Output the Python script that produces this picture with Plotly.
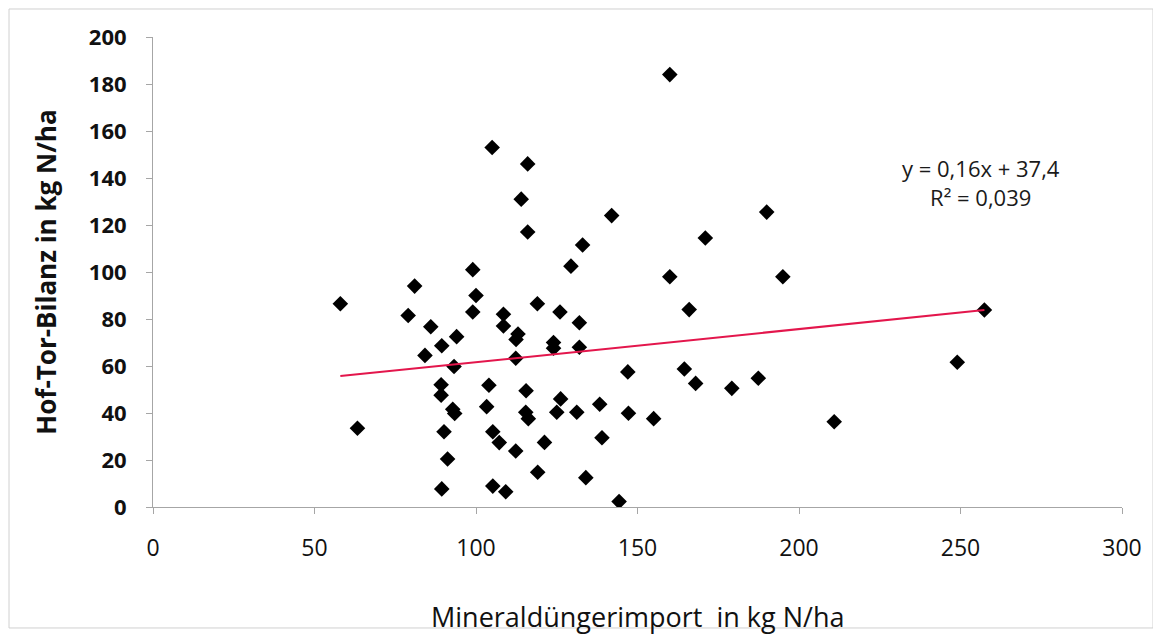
import plotly.graph_objects as go

# data
import_n = [160, 105, 116, 114, 142, 116, 133, 129.4, 99, 160, 195, 190, 171, 81, 58,
            100, 119, 126, 99, 79, 108.5, 166, 132, 86, 108.5, 113, 112.4, 94, 89.4, 124,
            124, 132, 84.2, 112.3, 93.2, 147, 164.5, 168, 89.2, 104, 89.2, 115.5, 126.2,
            92.8, 93.4, 103.3, 115.4, 116.2, 125, 131.2, 138.3, 147.2, 155, 63.3, 90.1,
            105.2, 107.2, 121.2, 139, 112.3, 91.2, 119.1, 134, 89.4, 105.2, 109.2, 144.3,
            179.2, 187.4, 210.9, 249, 257.4]
bilanz = [184, 153, 146, 131, 124, 117, 111.5, 102.5, 101, 98, 98, 125.5, 114.5, 94, 86.5,
          90, 86.5, 83, 83, 81.5, 82, 84, 78.4, 76.7, 77, 73.6, 71.3, 72.5, 68.6, 70,
          67.6, 68, 64.5, 63.3, 59.8, 57.5, 58.7, 52.6, 52, 51.8, 47.6, 49.5, 46,
          41.6, 39.8, 42.7, 40.3, 37.6, 40.3, 40.3, 43.7, 39.9, 37.6, 33.5, 32,
          32, 27.4, 27.5, 29.5, 23.8, 20.4, 14.8, 12.5, 7.7, 8.9, 6.5, 2.3,
          50.5, 54.8, 36.3, 61.6, 83.8]

trend_x = [58, 257.4]
trend_y = [55.7, 83.8]

x_ticks = [0, 50, 100, 150, 200, 250, 300]
y_ticks = [0, 20, 40, 60, 80, 100, 120, 140, 160, 180, 200]

fig = go.Figure()

fig.add_trace(go.Scatter(x=import_n, y=bilanz, mode='markers',
                         marker=dict(symbol='diamond', size=12, color='black'),
                         showlegend=False))
fig.add_trace(go.Scatter(x=trend_x, y=trend_y, mode='lines',
                         line=dict(color='#e3164c', width=2), showlegend=False))

fig.add_annotation(x=0.855, y=0.69, xref='paper', yref='paper',
                   xanchor='center', yanchor='middle',
                   text='y = 0,16x + 37,4<br>R² = 0,039', showarrow=False,
                   font=dict(family='Open Sans', size=22, color='#1a1a1a'), align='center')

# x axis title as an annotation so the plot area does not move
fig.add_annotation(x=0.5, y=-0.234, xref='paper', yref='paper',
                   xanchor='center', yanchor='middle',
                   text='Mineraldüngerimport  in kg N/ha', showarrow=False,
                   font=dict(family='Open Sans', size=27, color='#111'))

# light frame round the whole chart
fig.add_shape(type='rect', xref='paper', yref='paper',
              x0=-0.1486, x1=1.032, y0=-0.2574, y1=1.0596,
              line=dict(color='#d0d0d0', width=1))

axis_line = '#a6a6a6'
fig.update_xaxes(range=[0, 300], tickvals=x_ticks, showgrid=False, zeroline=False,
                 showline=True, linecolor=axis_line, ticks='outside', tickcolor=axis_line,
                 ticklen=6, ticklabelstandoff=14,
                 tickfont=dict(family='Open Sans', size=23, color='#111'))
fig.update_yaxes(range=[0, 200], tickvals=y_ticks, showgrid=False, zeroline=False,
                 showline=True, linecolor=axis_line, ticks='outside', tickcolor=axis_line,
                 ticklen=6, ticklabelstandoff=15,
                 tickfont=dict(family='Open Sans', size=22, color='#111', weight='bold'),
                 title=dict(text='Hof-Tor-Bilanz in kg N/ha', standoff=24,
                            font=dict(family='Open Sans', size=26, color='#111', weight='bold')))

# body of the page has an 8px margin, so the figure is 8px smaller and margins shifted
fig.update_layout(width=1153, height=628, plot_bgcolor='white', paper_bgcolor='white',
                  margin=dict(l=145, r=39, t=29, b=129))

fig.write_html("out.html")
